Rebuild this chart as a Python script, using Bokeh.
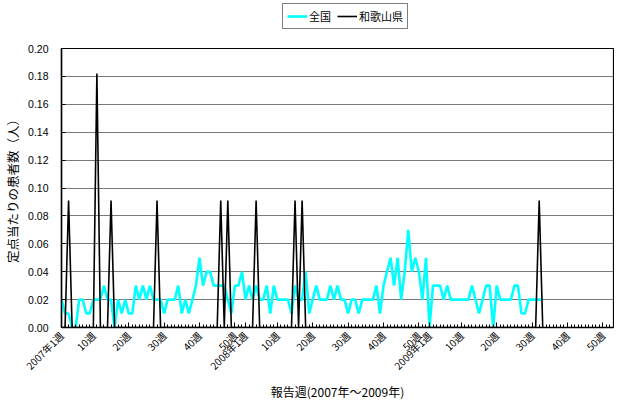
from math import pi
from bokeh.plotting import figure
from bokeh.layouts import column
from bokeh.models import FixedTicker, Legend, LegendItem, PrintfTickFormatter
from bokeh.embed import file_html
from bokeh.resources import INLINE

# week index 0 = 2007 week 1 ... 156 = 2009 week 53
tick_positions = [0, 9, 19, 29, 39, 49, 52, 61, 71, 81, 91, 101, 104, 113, 123, 133, 143, 153]
tick_labels = ["2007年1週", "10週", "20週", "30週", "40週", "50週",
               "2008年1週", "10週", "20週", "30週", "40週", "50週",
               "2009年1週", "10週", "20週", "30週", "40週", "50週"]
n_weeks = 157

zenkoku = [
    0.02, 0.01, 0.01, 0.00, 0.00, 0.02, 0.02, 0.01, 0.01, 0.02,
    0.02, 0.02, 0.03, 0.02, 0.02, 0.00, 0.02, 0.01, 0.02, 0.01,
    0.01, 0.03, 0.02, 0.03, 0.02, 0.03, 0.02, 0.02, 0.02, 0.01,
    0.02, 0.02, 0.02, 0.03, 0.01, 0.02, 0.01, 0.02, 0.03, 0.05,
    0.03, 0.04, 0.04, 0.03, 0.03, 0.03, 0.03, 0.02, 0.01, 0.03,
    0.03, 0.04, 0.02, 0.03, 0.02, 0.03, 0.02, 0.02, 0.03, 0.01,
    0.03, 0.02, 0.02, 0.02, 0.02, 0.01, 0.03, 0.02, 0.02, 0.04,
    0.01, 0.02, 0.03, 0.02, 0.02, 0.02, 0.03, 0.02, 0.03, 0.02,
    0.02, 0.01, 0.02, 0.02, 0.01, 0.02, 0.02, 0.02, 0.02, 0.03,
    0.01, 0.03, 0.04, 0.05, 0.03, 0.05, 0.02, 0.04, 0.07, 0.04,
    0.05, 0.04, 0.02, 0.05, 0.00, 0.03, 0.03, 0.03, 0.02, 0.03,
    0.02, 0.02, 0.02, 0.02, 0.02, 0.02, 0.03, 0.02, 0.01, 0.02,
    0.03, 0.03, 0.00, 0.03, 0.02, 0.02, 0.02, 0.02, 0.03, 0.03,
    0.01, 0.01, 0.02, 0.02, 0.02, 0.02, 0.02,
]

wakayama = [
    0.0, 0.0, 0.091, 0.0, 0.0, 0.0, 0.0, 0.0, 0.0, 0.0,
    0.182, 0.0, 0.0, 0.0, 0.091, 0.0, 0.0, 0.0, 0.0, 0.0,
    0.0, 0.0, 0.0, 0.0, 0.0, 0.0, 0.0, 0.091, 0.0, 0.0,
    0.0, 0.0, 0.0, 0.0, 0.0, 0.0, 0.0, 0.0, 0.0, 0.0,
    0.0, 0.0, 0.0, 0.0, 0.0, 0.091, 0.0, 0.091, 0.0, 0.0,
    0.0, 0.0, 0.0, 0.0, 0.0, 0.091, 0.0, 0.0, 0.0, 0.0,
    0.0, 0.0, 0.0, 0.0, 0.0, 0.0, 0.091, 0.0, 0.091, 0.0,
    0.0, 0.0, 0.0, 0.0, 0.0, 0.0, 0.0, 0.0, 0.0, 0.0,
    0.0, 0.0, 0.0, 0.0, 0.0, 0.0, 0.0, 0.0, 0.0, 0.0,
    0.0, 0.0, 0.0, 0.0, 0.0, 0.0, 0.0, 0.0, 0.0, 0.0,
    0.0, 0.0, 0.0, 0.0, 0.0, 0.0, 0.0, 0.0, 0.0, 0.0,
    0.0, 0.0, 0.0, 0.0, 0.0, 0.0, 0.0, 0.0, 0.0, 0.0,
    0.0, 0.0, 0.0, 0.0, 0.0, 0.0, 0.0, 0.0, 0.0, 0.0,
    0.0, 0.0, 0.0, 0.0, 0.0, 0.091, 0.0,
]

series_names = ["全国", "和歌山県"]
series_values = [zenkoku, wakayama]
series_colors = ["#00FFFF", "black"]
series_widths = [2.6, 1.6]

y_ticks = [0.00, 0.02, 0.04, 0.06, 0.08, 0.10, 0.12, 0.14, 0.16, 0.18, 0.20]

CJK = "Noto Sans CJK JP"

# ---- main chart ----
main = figure(width=614, height=372, x_range=(0, n_weeks - 1), y_range=(0, 0.2),
              output_backend="svg", toolbar_location=None,
              min_border_left=53, min_border_right=1, min_border_top=18, min_border_bottom=74)
main.background_fill_color = "white"
main.border_fill_color = "white"
main.outline_line_color = "black"
main.outline_line_width = 1.2

main.xgrid.visible = False
main.ygrid.ticker = FixedTicker(ticks=y_ticks)
main.ygrid.grid_line_color = "#7a7a7a"
main.ygrid.grid_line_width = 1.2

for vals, c, w in zip(series_values, series_colors, series_widths):
    main.line(list(range(len(vals))), vals, line_color=c, line_width=w)

xa = main.xaxis[0]
xa.ticker = FixedTicker(ticks=tick_positions, minor_ticks=list(range(n_weeks)))
xa.major_label_overrides = {t: l for t, l in zip(tick_positions, tick_labels)}
xa.major_label_orientation = pi / 4
xa.major_label_text_font = CJK
xa.major_label_text_font_size = "10px"
xa.major_label_text_color = "black"
xa.major_label_standoff = 6
xa.major_tick_in = 5
xa.major_tick_out = 0
xa.minor_tick_in = 3
xa.minor_tick_out = 0
xa.major_tick_line_color = "black"
xa.minor_tick_line_color = "black"
xa.axis_line_color = "black"
xa.axis_line_width = 1.5
xa.axis_label = "報告週(2007年～2009年)"
xa.axis_label_text_font = CJK
xa.axis_label_text_font_size = "12px"
xa.axis_label_text_font_style = "normal"
xa.axis_label_text_color = "black"
xa.axis_label_standoff = 2

ya = main.yaxis[0]
ya.ticker = FixedTicker(ticks=y_ticks)
ya.formatter = PrintfTickFormatter(format="%.2f")
ya.major_label_text_font = "Liberation Sans"
ya.major_label_text_font_size = "10.5px"
ya.major_label_text_color = "black"
ya.major_label_standoff = 13
ya.major_tick_in = 4
ya.major_tick_out = 0
ya.minor_tick_in = 0
ya.minor_tick_out = 0
ya.major_tick_line_color = "black"
ya.axis_line_color = "black"
ya.axis_line_width = 1.5
ya.axis_label = "定点当たりの患者数（人）"
ya.axis_label_text_font = CJK
ya.axis_label_text_font_size = "12.5px"
ya.axis_label_text_font_style = "normal"
ya.axis_label_text_color = "black"
ya.axis_label_standoff = 3

# ---- legend strip above the chart (series drawn outside its visible range) ----
top = figure(width=614, height=30, x_range=(0, 1), y_range=(10, 11),
             output_backend="svg", toolbar_location=None,
             x_axis_type=None, y_axis_type=None,
             min_border_left=0, min_border_right=0, min_border_top=0, min_border_bottom=0)
top.outline_line_color = None
top.grid.visible = False
top.background_fill_color = "white"
top.border_fill_color = "white"
lr = [top.line(list(range(len(v))), v, line_color=c, line_width=w)
      for v, c, w in zip(series_values, series_colors, series_widths)]

legend = Legend(items=[LegendItem(label=n, renderers=[r]) for n, r in zip(series_names, lr)],
                orientation="horizontal", location=(221, 1))
legend.label_text_font = CJK
legend.label_text_font_size = "11px"
legend.label_text_color = "black"
legend.label_standoff = 2
legend.glyph_width = 20
legend.glyph_height = 12
legend.spacing = 6
legend.padding = 4
legend.margin = 0
legend.border_line_color = "black"
legend.border_line_width = 1
legend.background_fill_color = "white"
top.add_layout(legend)

p = column(top, main, spacing=0)

open("out.html", "w").write(file_html(p, INLINE))
